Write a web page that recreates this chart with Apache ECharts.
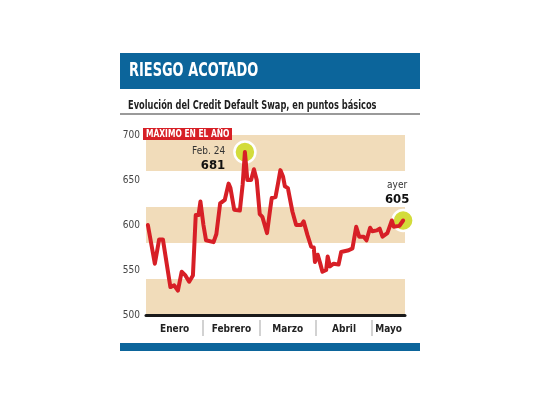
<!DOCTYPE html>
<html>
<head>
<meta charset="utf-8">
<script src="https://cdn.jsdelivr.net/npm/echarts@6/dist/echarts.min.js"></script>
<style>
html,body{margin:0;padding:0;background:#fff;}
#chart{width:540px;height:405px;}
</style>
</head>
<body>
<div id="chart"></div>
<script>
// ---- data (day of year, approx.) ----
var days = [1,4.7,6,7,9,13,15,17,19,21,23,25,26.5,28,29,30.6,32,36,37.5,39.5,42,44,45,47,50,51.5,52.7,54,56,57.5,59,60.6,62,64.5,66,67,69,70.5,71.6,73,74,75.6,78,80,82.7,84,86,88,89.4,90,91.5,93,94,96,96.8,98,100,102.6,104,108,110,112,113.6,116,117.5,119.4,120.6,123,124.5,126,128.6,131,132,135,137];
var values = [600,557,572,584,584,531,533,527,548,544,537,544,611,611,626,600,583,581,590,624,628,646,641,617,616,645,681,650,650,662,650,612,609,591,615,630,631,648,661,654,643,641,615,600,600,604,589,576,575,559,567,556,548,550,565,554,557,556,570,572,574,598,587,587,583,597,593,594,596,587,591,605,598,599,605];
var monthNames = ['Enero','Febrero','Marzo','Abril','Mayo'];
var monthLabelPos = [15.25,45.5,75.5,105.5,129.25];
var monthTicks = [30.5,60.5,90.5,120.5];
var yTicks = [500,550,600,650,700];
var bands = [[500,540],[580,620],[660,700]];
var titleText = 'RIESGO ACOTADO';
var subtitleText = 'Evolución del Credit Default Swap, en puntos básicos';
var maxLabel = 'MÁXIMO EN EL AÑO';
var peakDateLabel = 'Feb. 24';
var lastLabel = 'ayer';

var FONT = "'Liberation Sans Narrow','Arial Narrow','DejaVu Sans Condensed',sans-serif";
var seriesData = days.map(function(d,i){return [d, values[i]];});
var peakIdx = values.indexOf(Math.max.apply(null, values));
var lastIdx = values.length - 1;

var chart = echarts.init(document.getElementById('chart'), null, {renderer:'canvas'});
chart.setOption({
  backgroundColor:'#fff',
  animation:false,
  grid:{left:146, right:135, top:135, bottom:90},
  xAxis:[{
    type:'value', min:0, max:138,
    axisLine:{show:true, onZero:false, lineStyle:{color:'#1a1a1a', width:3}},
    axisTick:{show:false}, axisLabel:{show:false}, splitLine:{show:false}, z:5
  },{
    type:'value', min:0, max:138, position:'bottom', offset:5,
    axisLine:{show:false},
    axisTick:{show:true, customValues:monthTicks, length:16, lineStyle:{color:'#c4c4c4', width:1.5}},
    axisLabel:{show:true, customValues:monthLabelPos, margin:4,
      fontFamily:FONT, fontWeight:'bold', fontSize:10, color:'#222',
      formatter:function(v){var i=monthLabelPos.indexOf(v); return i>=0?monthNames[i]:'';}},
    splitLine:{show:false}
  }],
  yAxis:{
    type:'value', min:500, max:700, interval:50,
    axisLine:{show:false}, axisTick:{show:false}, splitLine:{show:false},
    axisLabel:{fontFamily:FONT, fontSize:10, color:'#444', margin:6, customValues:yTicks}
  },
  series:[{
    type:'scatter', xAxisIndex:0, z:1, silent:true,
    data:[seriesData[peakIdx], seriesData[lastIdx]],
    symbol:'circle', symbolSize:21,
    itemStyle:{color:'#d3dc3b', borderColor:'#fff', borderWidth:2.5, opacity:1},
    markArea:{silent:true, itemStyle:{color:'#f1dcba'},
      data:bands.map(function(b){return [{yAxis:b[0]},{yAxis:b[1]}];})},
    label:{show:true,
      formatter:function(p){
        return p.dataIndex===0 ? '{a|'+peakDateLabel+'}\n{b|'+values[peakIdx]+'}'
                               : '{a|'+lastLabel+'}\n{b|'+values[lastIdx]+'}';
      },
      rich:{a:{fontFamily:FONT, fontSize:10, color:'#333', lineHeight:13},
            b:{fontFamily:FONT, fontSize:13, fontWeight:'bold', color:'#111', lineHeight:15}}
    },
    labelLayout:function(p){
      return p.dataIndex===0 ? {x:p.rect.x-8, y:p.rect.y+p.rect.height/2+7, align:'right', verticalAlign:'middle'}
                             : {x:p.rect.x+p.rect.width/2-6, y:p.rect.y-2, align:'center', verticalAlign:'bottom'};
    }
  },{
    type:'line', xAxisIndex:0, z:3, data:seriesData, symbol:'none', silent:true,
    lineStyle:{color:'#d71f26', width:4, join:'round', cap:'round'}
  }],
  graphic:[
    {type:'rect', x:120, y:53, shape:{width:300, height:36}, style:{fill:'#0c659b'}},
    {type:'text', x:129, y:61, scaleX:0.72, style:{text:titleText, fill:'#fff', font:"bold 20px "+FONT, verticalAlign:'top'}},
    {type:'text', x:128, y:100, scaleX:0.765, style:{text:subtitleText, fill:'#1e1e1e', font:"bold 12px "+FONT, verticalAlign:'top'}},
    {type:'rect', x:120, y:113, shape:{width:300, height:2}, style:{fill:'#9a9a9a'}},
    {type:'rect', x:143, y:128, z:10, shape:{width:89, height:12}, style:{fill:'#d71f26'}},
    {type:'text', x:146, y:129, z:11, scaleX:0.76, style:{text:maxLabel, fill:'#fff', font:"bold 11px "+FONT, verticalAlign:'top'}},
    {type:'rect', x:120, y:343, shape:{width:300, height:8}, style:{fill:'#0c659b'}}
  ]
});
</script>
</body>
</html>
